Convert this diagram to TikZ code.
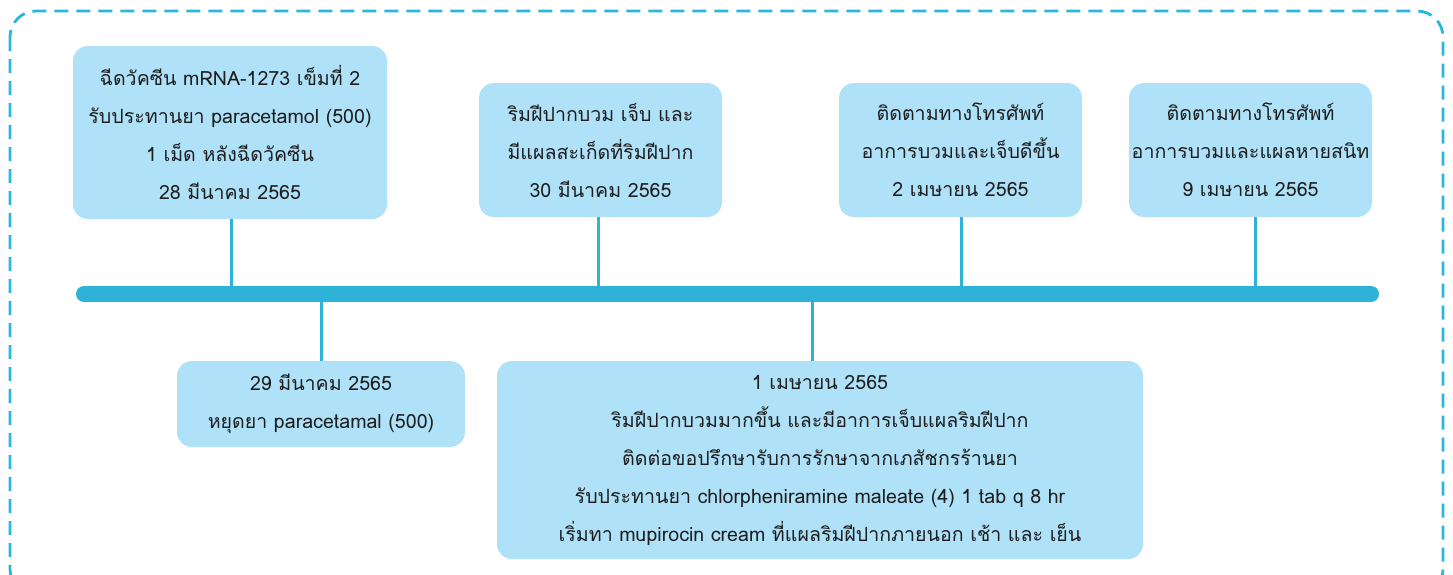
\documentclass[tikz,border=0pt]{standalone}
\usepackage{fontspec}
\newfontfamily\thaifont[Script=Thai]{Loma}
\definecolor{boxfill}{HTML}{AFE1F8}
\definecolor{linecol}{HTML}{2EB2D8}
\definecolor{bordercol}{HTML}{2BB6E0}
\definecolor{txt}{HTML}{1E1E1E}
\tikzset{
  evbox/.style={rectangle, rounded corners=15pt, fill=boxfill, draw=none, align=center, text=txt,
    font=\thaifont\fontsize{19.6pt}{38pt}\selectfont, inner sep=0pt},
  conn/.style={draw=linecol, line width=3pt},
  bar/.style={draw=linecol, line width=16pt, line cap=round},
  frame/.style={draw=bordercol, line width=2.8pt, dash pattern=on 14pt off 8pt, rounded corners=26pt}
}
\begin{document}
\begin{tikzpicture}[x=1pt,y=-1pt]
\useasboundingbox (0,0) rectangle (1453,574);
\begin{scope}
\clip (0,0) rectangle (1453,574);
\draw[frame] (10,11) rectangle (1443,595);
\end{scope}
\coordinate (barL) at (84,294);
\coordinate (barR) at (1371,294);
\coordinate (t1) at (231,294);
\coordinate (t2) at (598,294);
\coordinate (t3) at (961,294);
\coordinate (t4) at (1255,294);
\coordinate (t5) at (321,294);
\coordinate (t6) at (812,294);

\node[evbox, minimum width=314pt, minimum height=173pt] (b1) at (230,132.5)
  {ฉีดวัคซีน mRNA-1273 เข็มที่ 2\\รับประทานยา paracetamol (500)\\1 เม็ด หลังฉีดวัคซีน\\28 มีนาคม 2565};
\node[evbox, minimum width=243pt, minimum height=134pt] (b2) at (600.5,150)
  {ริมฝีปากบวม เจ็บ และ\\มีแผลสะเก็ดที่ริมฝีปาก\\30 มีนาคม 2565};
\node[evbox, minimum width=243pt, minimum height=134pt] (b3) at (960.5,150)
  {ติดตามทางโทรศัพท์\\อาการบวมและเจ็บดีขึ้น\\2 เมษายน 2565};
\node[evbox, minimum width=243pt, minimum height=134pt] (b4) at (1250.5,150)
  {ติดตามทางโทรศัพท์\\อาการบวมและแผลหายสนิท\\9 เมษายน 2565};
\node[evbox, minimum width=288pt, minimum height=86pt] (b5) at (321,404)
  {29 มีนาคม 2565\\หยุดยา paracetamal (500)};
\node[evbox, minimum width=646pt, minimum height=198pt] (b6) at (820,460)
  {1 เมษายน 2565\\ริมฝีปากบวมมากขึ้น และมีอาการเจ็บแผลริมฝีปาก\\ติดต่อขอปรึกษารับการรักษาจากเภสัชกรร้านยา\\รับประทานยา chlorpheniramine maleate (4) 1 tab q 8 hr\\เริ่มทา mupirocin cream ที่แผลริมฝีปากภายนอก เช้า และ เย็น};

\draw[conn] (t1) -- (t1 |- b1.south);
\draw[conn] (t2) -- (t2 |- b2.south);
\draw[conn] (t3) -- (t3 |- b3.south);
\draw[conn] (t4) -- (t4 |- b4.south);
\draw[conn] (t5) -- (t5 |- b5.north);
\draw[conn] (t6) -- (t6 |- b6.north);
\draw[bar] (barL) -- (barR);
\end{tikzpicture}
\end{document}
